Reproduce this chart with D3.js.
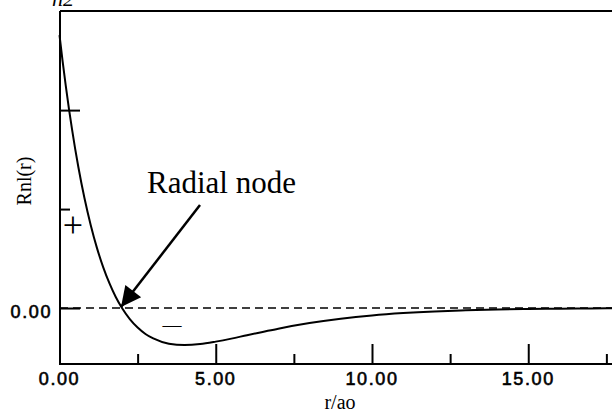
<!DOCTYPE html>
<html><head><meta charset="utf-8">
<script src="https://cdn.jsdelivr.net/npm/d3@7"></script>
<style>html,body{margin:0;padding:0;background:#fff;overflow:hidden}svg{display:block}</style>
</head><body>
<svg id="c" width="612" height="414"></svg>
<script>
// r / a0 values and radial function values
const rValues = [0,0.1,0.2,0.3,0.4,0.5,0.6,0.8,1.0,1.2,1.4,1.6,1.8,2.0,2.25,2.5,2.75,3.0,3.5,4.0,4.5,5.0,5.5,6.0,6.5,7.0,8.0,9.0,10,11,12,13,14,15,16,17,18];
const Rvalues = [2.0,1.807,1.629,1.463,1.310,1.168,1.037,0.804,0.607,0.439,0.298,0.180,0.081,0,-0.081,-0.143,-0.190,-0.223,-0.261,-0.271,-0.264,-0.246,-0.224,-0.199,-0.175,-0.151,-0.110,-0.078,-0.054,-0.037,-0.025,-0.017,-0.011,-0.007,-0.005,-0.003,-0.002];
const xMajorTicks = [0,5,10,15];
const xMinorTicks = [2.5,7.5,12.5,17.5];
const xTickLabels = ["0.00","5.00","10.00","15.00"];
const yMajorTicks = [0,1.45];
const yMinorTicks = [0.725];
const yTickLabels = ["0.00"];
const xTitle = "r/ao";
const yTitle = "Rnl(r)";
const annotation = "Radial node";
const topLabel = "n2";

(function(){
const svg = d3.select("#c");
const pLeft = 60, pRight = 612, pTop = 11, pBottom = 364;
const x = d3.scaleLinear().domain([0, 17.68]).range([59.5, 612]);
const y = d3.scaleLinear().domain([-0.41, 2.176]).range([pBottom, pTop]);

// frame: left and bottom axes + top line
svg.append("line").attr("x1", pLeft).attr("x2", pRight).attr("y1", pTop).attr("y2", pTop)
  .attr("stroke","#000").attr("stroke-width",2);
svg.append("line").attr("x1", pLeft).attr("x2", pLeft).attr("y1", pTop).attr("y2", pBottom)
  .attr("stroke","#000").attr("stroke-width",2);

// x axis (ticks pointing inward)
const gx = svg.append("g").attr("transform", `translate(0,${pBottom})`);
gx.call(d3.axisBottom(x).tickValues(xMinorTicks).tickSizeInner(-10).tickSizeOuter(0).tickFormat(""));
gx.select(".domain").remove();
const gx2 = svg.append("g").attr("transform", `translate(0,${pBottom})`);
gx2.call(d3.axisBottom(x).tickValues(xMajorTicks.slice(1)).tickSizeInner(-20).tickSizeOuter(0).tickFormat(""));
gx2.select(".domain").remove();
svg.append("line").attr("x1", pLeft-1).attr("x2", pRight).attr("y1", pBottom).attr("y2", pBottom)
  .attr("stroke","#000").attr("stroke-width",2);
svg.append("g").selectAll("text").data(xMajorTicks).join("text")
  .attr("x", d => x(d)).attr("y", 385)
  .attr("text-anchor","middle")
  .attr("font-family","'Liberation Sans', Arial, sans-serif")
  .attr("font-size", 18).attr("letter-spacing", 1.6)
  .attr("fill","#000").attr("stroke","#000").attr("stroke-width",0.6)
  .text((d,i) => xTickLabels[i]);

// y axis ticks (inward)
const gy = svg.append("g").attr("transform", `translate(${pLeft},0)`);
gy.call(d3.axisLeft(y).tickValues(yMajorTicks).tickSizeInner(-20).tickSizeOuter(0).tickFormat(""));
gy.select(".domain").remove();
const gy2 = svg.append("g").attr("transform", `translate(${pLeft},0)`);
gy2.call(d3.axisLeft(y).tickValues(yMinorTicks).tickSizeInner(-10).tickSizeOuter(0).tickFormat(""));
gy2.select(".domain").remove();
svg.selectAll("g .tick line").attr("stroke","#000").attr("stroke-width",2);
svg.append("text").attr("x", 52).attr("y", y(0) + 10)
  .attr("text-anchor","end")
  .attr("font-family","'Liberation Sans', Arial, sans-serif")
  .attr("font-size", 18).attr("letter-spacing", 1.6)
  .attr("fill","#000").attr("stroke","#000").attr("stroke-width",0.6)
  .text(yTickLabels[0]);

// zero dashed line
svg.append("line").attr("x1", pLeft).attr("x2", pRight).attr("y1", y(0)).attr("y2", y(0))
  .attr("stroke","#000").attr("stroke-width",1.5).attr("stroke-dasharray","8,5");

// curve
const line = d3.line().x(d => x(d[0])).y(d => y(d[1])).curve(d3.curveMonotoneX);
svg.append("path").datum(rValues.map((r,i)=>[r, Rvalues[i]]))
  .attr("d", line).attr("fill","none").attr("stroke","#000").attr("stroke-width",2);

// titles
svg.append("text").attr("transform","translate(31,181) rotate(-90)")
  .attr("text-anchor","middle")
  .attr("font-family","'Liberation Serif','Times New Roman',serif").attr("font-size",20)
  .text(yTitle);
svg.append("text").attr("x", 340).attr("y", 409).attr("text-anchor","middle")
  .attr("font-family","'Liberation Serif','Times New Roman',serif").attr("font-size",20)
  .text(xTitle);
svg.append("text").attr("x", 52).attr("y", 6)
  .attr("font-family","'Liberation Serif','Times New Roman',serif").attr("font-size",22)
  .attr("font-style","italic").text(topLabel);

// annotation
svg.append("text").attr("x", 147).attr("y", 193)
  .attr("font-family","'Liberation Serif','Times New Roman',serif").attr("font-size",31)
  .text(annotation);
const defs = svg.append("defs");
defs.append("marker").attr("id","ah").attr("viewBox","0 0 10 10").attr("refX",10).attr("refY",5)
  .attr("markerWidth",26).attr("markerHeight",20).attr("markerUnits","userSpaceOnUse")
  .attr("orient","auto")
  .append("path").attr("d","M0,0 L10,5 L0,10 Z").attr("fill","#000");
svg.append("line").attr("x1",200).attr("y1",205).attr("x2", x(2) - 1).attr("y2", y(0) - 1)
  .attr("stroke","#000").attr("stroke-width",2.5).attr("marker-end","url(#ah)");

// sign labels
svg.append("text").attr("x", 73).attr("y", 237).attr("text-anchor","middle")
  .attr("font-family","'Liberation Serif','Times New Roman',serif").attr("font-size",36)
  .text("+");
svg.append("text").attr("x", 172).attr("y", 331).attr("text-anchor","middle")
  .attr("font-family","'Liberation Serif','Times New Roman',serif").attr("font-size",19)
  .text("—");
})();
</script>
</body></html>
